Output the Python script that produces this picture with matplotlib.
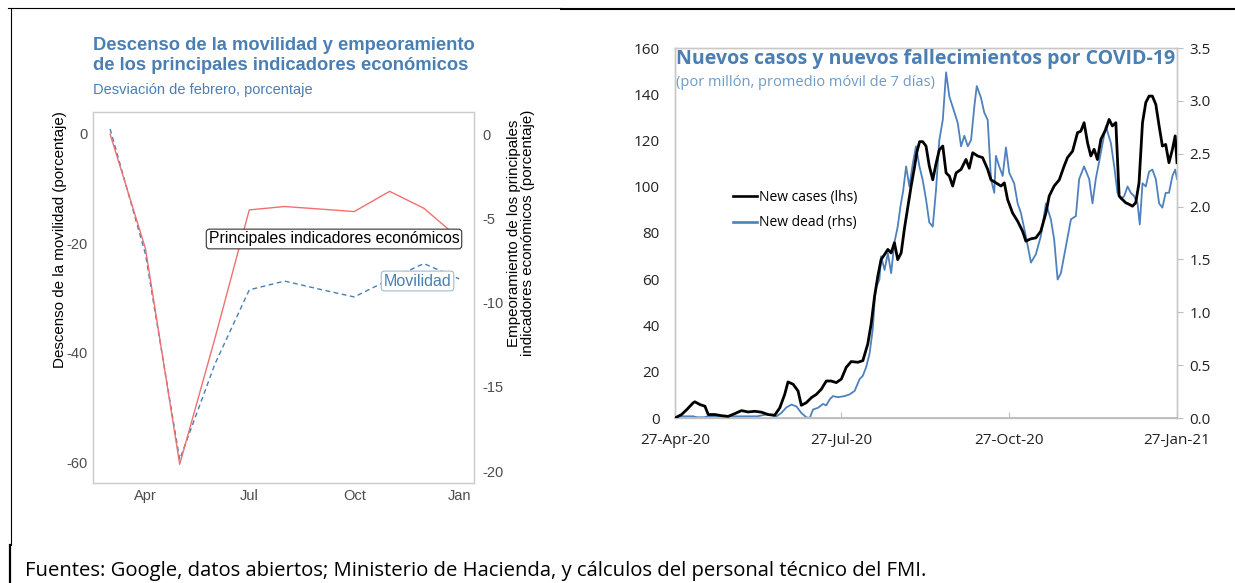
import numpy as np
import pandas as pd
import matplotlib
matplotlib.use("Agg")
import matplotlib.pyplot as plt
import matplotlib.dates as mdates
from matplotlib.lines import Line2D

# ---------------- data: left chart (monthly, deviation from February) ----------------
months = ["2020-03-01", "2020-04-01", "2020-05-01", "2020-06-01", "2020-07-01", "2020-08-01",
          "2020-09-01", "2020-10-01", "2020-11-01", "2020-12-01", "2021-01-01"]
mobility = [0.9, -22.0, -59.5, -42.0, -28.5, -26.9, -28.4, -29.8, -26.6, -23.7, -26.5]
indicators = [0.0, -6.8, -19.6, -12.1, -4.5, -4.3, -4.45, -4.6, -3.4, -4.4, -6.2]
left_xticks = ["2020-04-01", "2020-07-01", "2020-10-01", "2021-01-01"]
left_xticklabels = ["Apr", "Jul", "Oct", "Jan"]
left_yticks = [0, -20, -40, -60]
right_yticks = [0, -5, -10, -15, -20]

# ---------------- data: right chart (days after 27-Apr-2020) ----------------
case_days = [0, 3.6, 6.4, 10, 10.9, 13.7, 16.4, 18.2, 21.9, 25.5, 29.1, 32.8, 36.4, 40.1, 43.7,
             47.4, 51, 54.6, 57.4, 60.1, 61.9, 64.7, 67.4, 69.2, 71.9, 74.7, 77.4, 80.1, 82.9,
             85.6, 88.3, 91.1, 93.8, 96.5, 100.2, 102.9, 105.6, 107.5, 109.3, 111.1, 112.9,
             114.8, 116.6, 118.4, 120.2, 122.0, 123.9, 125.7, 127.5, 129.3, 131.1, 132.5, 134.0,
             135.7, 137.5, 139.3, 141.2, 143, 144.8, 146.7, 148.5, 150.3, 152.1, 154, 156.7,
             159.4, 161.2, 163.1, 165.8, 168.5, 171.3, 173.1, 175.8, 178.6, 180.4, 182.2, 184.9,
             187.7, 190.4, 192.2, 195, 197.7, 200.4, 203.2, 205, 207.7, 210.5, 213.2, 215,
             217.8, 220.5, 222.3, 224.1, 226, 227.8, 229.6, 231.4, 233.3, 236, 237.8, 239.6,
             241.5, 243.3, 245.1, 246.9, 248.8, 250.6, 252.4, 254.2, 256.1, 257.9, 259.7, 261.5,
             263.4, 265.2, 267, 268.8, 270.6, 272.5, 274, 275]
new_cases = [0, 1.5, 3.6, 6.6, 7.0, 5.8, 5.1, 1.5, 1.5, 1.0, 0.7, 1.9, 3.2, 2.6, 2.9,
             2.5, 1.5, 1.2, 4.4, 10.2, 15.6, 14.6, 11.7, 5.5, 6.6, 8.8, 10.2, 12.4, 16.0,
             16.0, 15.3, 16.8, 21.9, 24.4, 24.1, 24.8, 32.0, 40.9, 52.5, 61.3, 68.5,
             70.7, 72.9, 71.4, 75.8, 68.5, 71.4, 82, 91, 100, 108, 115, 119.5,
             119.5, 117.6, 109, 103, 110, 116, 117.6, 106, 104.6, 100.3, 106, 107.5,
             111.8, 108, 114.7, 113.3, 112.6, 107.5, 103, 101.7, 100.3, 101.7, 94.5, 88.7,
             85.1, 80.8, 76.5, 77.5, 77.9, 80.8, 88.7, 96, 100.3, 103, 109, 112.6,
             115.4, 123.4, 124, 127.7, 119, 113.3, 116.2, 111.8, 120.5, 124.8, 129.1, 126.3,
             127.7, 96, 94.5, 93.1, 92.4, 91.6, 93.1, 101.7, 127.7, 136.4, 139.2, 139.2,
             135.6, 126.3, 117.6, 118.3, 110.4, 116.2, 122, 110.4]

dead_days = [0, 2, 6, 10, 12, 16, 18, 25, 35, 45, 50.1, 52.8, 55.6, 58.3, 61, 63.8, 66.5, 69.2,
             71.9, 73.8, 75.6, 78.3, 81.1, 82.9, 84.7, 86.5, 89.3, 92.9, 95.6, 98.4, 101.1,
             102.9, 104.7, 106.6, 108.4, 109.5, 110.5, 112, 112.9, 114.8, 116.6, 118.4, 120.2,
             122, 123.5, 125, 126.6, 128.4, 130.2, 132, 133.9, 135.7, 137.5, 139.3, 141.2, 143,
             144.8, 146.7, 148.5, 150.3, 153.1, 154.9, 156.7, 158.5, 160.4, 162.2, 164, 165.3,
             167.6, 169.4, 171.3, 173.1, 174.9, 175.8, 177.6, 179.5, 181.3, 183.1, 185.8, 187.7,
             189.5, 192.2, 195, 197.7, 200.4, 203.2, 205.9, 207.7, 209.6, 211.4, 214.1, 216.9,
             219.6, 221.4, 224.1, 226.9, 228.7, 230.5, 232.4, 236, 238.8, 240.6, 242.4, 244.3,
             246.1, 247.9, 249.7, 251.5, 253.4, 254.6, 256.1, 257.9, 259.7, 261.5, 263.4, 265.2,
             267, 268.8, 270.6, 272.5, 274, 275]
new_dead = [0, 0.016, 0.016, 0.016, 0.007, 0.007, 0.016, 0.016, 0.016, 0.016, 0.033, 0.026, 0.016,
            0.048, 0.10, 0.127, 0.11, 0.048, 0.007, 0.0, 0.08, 0.096, 0.133, 0.12, 0.175, 0.207,
            0.197, 0.207, 0.223, 0.256, 0.367, 0.40, 0.48, 0.61, 0.85, 1.15, 1.25, 1.31, 1.53,
            1.40, 1.56, 1.37, 1.66, 1.81, 2.0, 2.15, 2.38, 2.19, 2.40, 2.57, 2.38, 2.25, 2.07,
            1.85, 1.81, 2.16, 2.63, 2.82, 3.27, 3.04, 2.89, 2.79, 2.57, 2.67, 2.57, 2.63, 2.95,
            3.14, 3.03, 2.89, 2.82, 2.26, 2.13, 2.48, 2.38, 2.29, 2.56, 2.32, 2.22, 2.03, 1.94,
            1.72, 1.47, 1.55, 1.72, 2.03, 1.88, 1.69, 1.31, 1.37, 1.62, 1.88, 1.91, 2.26, 2.38,
            2.26, 2.03, 2.26, 2.43, 2.76, 2.60, 2.38, 2.13, 2.07, 2.10, 2.19, 2.13, 2.10, 2.03,
            1.83, 2.22, 2.19, 2.33, 2.35, 2.26, 2.03, 1.99, 2.13, 2.13, 2.29, 2.35, 2.26]
start_date = "2020-04-27"
right_xticks = ["2020-04-27", "2020-07-27", "2020-10-27", "2021-01-27"]
cases_yticks = list(range(0, 161, 20))
dead_yticks = [0.0, 0.5, 1.0, 1.5, 2.0, 2.5, 3.0, 3.5]

# ---------------- figure ----------------
W, H = 1235, 583
fig = plt.figure(figsize=(W / 100, H / 100), dpi=100)
fig.patch.set_facecolor("white")

def fx(px):
    return px / W

def fy(py):
    return 1 - py / H

ARIAL = "Liberation Sans"
SEGOE = "Open Sans"
TITLE_BLUE = "#4a7fb3"

# ---- left panel ----
mdates_m = pd.to_datetime(months)
ax = fig.add_axes([fx(93), fy(483), fx(474) - fx(93), (483 - 112) / H])
ax.plot(mdates_m, mobility, color="#4a7fb3", lw=1.0, ls=(0, (3.5, 2.5)), zorder=3)
ax.set_xlim(pd.Timestamp("2020-02-15"), pd.Timestamp("2021-01-14"))
ax.set_ylim(-63.8, 4.0)
ax.set_yticks(left_yticks)
ax.set_yticklabels([str(v) for v in left_yticks])
ax.set_xticks(pd.to_datetime(left_xticks))
ax.set_xticklabels(left_xticklabels)
for s in ax.spines.values():
    s.set_color("#cccccc")
    s.set_linewidth(0.9)
ax.tick_params(length=0, labelsize=10.5, labelcolor="#4d4d4d", pad=4)
for lab in ax.get_xticklabels() + ax.get_yticklabels():
    lab.set_family(ARIAL)

ax2 = ax.twinx()
ax2.plot(mdates_m, indicators, color="#f07070", lw=1.0, zorder=3)
ax2.set_ylim(-20.71, 1.31)
ax2.set_yticks(right_yticks)
ax2.set_yticklabels([str(v) for v in right_yticks])
ax2.tick_params(length=0, labelsize=10.5, labelcolor="#4d4d4d", pad=6)
for lab in ax2.get_yticklabels():
    lab.set_family(ARIAL)
for s in ax2.spines.values():
    s.set_color("#cccccc")
    s.set_linewidth(0.9)

fig.text(fx(93), fy(45), "Descenso de la movilidad y empeoramiento", family=ARIAL,
         weight="bold", fontsize=13.2, color=TITLE_BLUE, va="center", ha="left")
fig.text(fx(93), fy(65), "de los principales indicadores económicos", family=ARIAL,
         weight="bold", fontsize=13.2, color=TITLE_BLUE, va="center", ha="left")
fig.text(fx(93), fy(90), "Desviación de febrero, porcentaje", family=ARIAL,
         fontsize=10.5, color=TITLE_BLUE, va="center", ha="left")

fig.text(fx(60), fy(240), "Descenso de la movilidad (porcentaje)", family=ARIAL,
         fontsize=10.9, rotation=90, ha="center", va="center", color="black")
fig.text(fx(521), fy(233), "Empeoramiento de los principales\nindicadores económicos (porcentaje)",
         family=ARIAL, fontsize=10.9, rotation=90, ha="center", va="center",
         multialignment="center", color="black", linespacing=1.0)

fig.text(fx(334), fy(239), "Principales indicadores económicos", family=ARIAL, fontsize=11.3,
         color="black", ha="center", va="center",
         bbox=dict(boxstyle="round,pad=0.15,rounding_size=0.2", fc="white", ec="#333333", lw=0.8))
fig.text(fx(417.5), fy(281), "Movilidad", family=ARIAL, fontsize=11.5,
         color="#4a7fb3", ha="center", va="center",
         bbox=dict(boxstyle="round,pad=0.15,rounding_size=0.2", fc="white", ec="#9dbbd6", lw=0.8))

# ---- right panel ----
base = pd.Timestamp(start_date)
cdates = base + pd.to_timedelta(case_days, unit="D")
ddates = base + pd.to_timedelta(dead_days, unit="D")

ax3 = fig.add_axes([fx(675), fy(418), fx(1177) - fx(675), (418 - 48) / H])
ax4 = ax3.twinx()
ax4.plot(ddates, new_dead, color="#4F81BD", lw=1.3, zorder=2)
ax3.plot(cdates, new_cases, color="black", lw=2.0, zorder=3)
ax3.set_zorder(ax4.get_zorder() + 1)
ax3.patch.set_visible(False)

ax3.set_xlim(pd.Timestamp(right_xticks[0]), pd.Timestamp(right_xticks[-1]))
ax3.set_ylim(0, 160)
ax4.set_ylim(0, 3.5)
ax3.set_yticks(cases_yticks)
ax4.set_yticks(dead_yticks)
ax4.set_yticklabels([f"{v:.1f}" for v in dead_yticks])
ax3.set_xticks(pd.to_datetime(right_xticks))
ax3.xaxis.set_major_formatter(mdates.DateFormatter("%d-%b-%y"))

for a in (ax3, ax4):
    for s in a.spines.values():
        s.set_color("#c8c8c8")
        s.set_linewidth(1.0)
ax3.spines["bottom"].set_color("#bdbdbd")
ax3.spines["bottom"].set_linewidth(1.3)
ax3.tick_params(axis="y", length=0, labelsize=11, pad=11, labelcolor="#222222")
ax3.tick_params(axis="x", direction="in", length=4, color="#bdbdbd", labelsize=11,
                pad=11, labelcolor="#222222")
ax4.tick_params(axis="y", direction="out", length=4, color="#bdbdbd", labelsize=11,
                pad=5, labelcolor="#222222")
for lab in ax3.get_xticklabels() + ax3.get_yticklabels() + ax4.get_yticklabels():
    lab.set_family(SEGOE)

fig.text(fx(676), fy(59), "Nuevos casos y nuevos fallecimientos por COVID-19", family=SEGOE,
         weight="bold", fontsize=14.0, color=TITLE_BLUE, ha="left", va="center")
fig.text(fx(676), fy(82), "(por millón, promedio móvil de 7 días)", family=SEGOE,
         fontsize=10.5, color="#6d9bc7", ha="left", va="center")

handles = [Line2D([], [], color="black", lw=1.9), Line2D([], [], color="#4F81BD", lw=1.9)]
leg = ax3.legend(handles, ["New cases (lhs)", "New dead (rhs)"], loc="upper left",
                 bbox_to_anchor=(fx(733), fy(190)), bbox_transform=fig.transFigure,
                 frameon=False, borderpad=0, borderaxespad=0, handlelength=1.7,
                 handletextpad=0.15, labelspacing=0.75, prop={"family": SEGOE, "size": 10})

# ---- footer and borders ----
fig.text(fx(25), fy(571), "Fuentes: Google, datos abiertos; Ministerio de Hacienda, y cálculos del personal técnico del FMI.",
         family=SEGOE, fontsize=14.55, color="black", ha="left", va="center")

fig.add_artist(Line2D([fx(8), fx(561)], [fy(8), fy(8)], color="black", lw=0.8,
                      transform=fig.transFigure))
fig.add_artist(Line2D([fx(561), fx(1235)], [fy(8.7), fy(8.7)], color="black", lw=1.5,
                      transform=fig.transFigure))
fig.add_artist(Line2D([fx(10.5), fx(10.5)], [fy(8), fy(545)], color="black", lw=0.8,
                      transform=fig.transFigure))
fig.add_artist(Line2D([fx(10), fx(10)], [fy(545), fy(583)], color="black", lw=1.6,
                      transform=fig.transFigure))

fig.savefig("out.png", dpi=100)
